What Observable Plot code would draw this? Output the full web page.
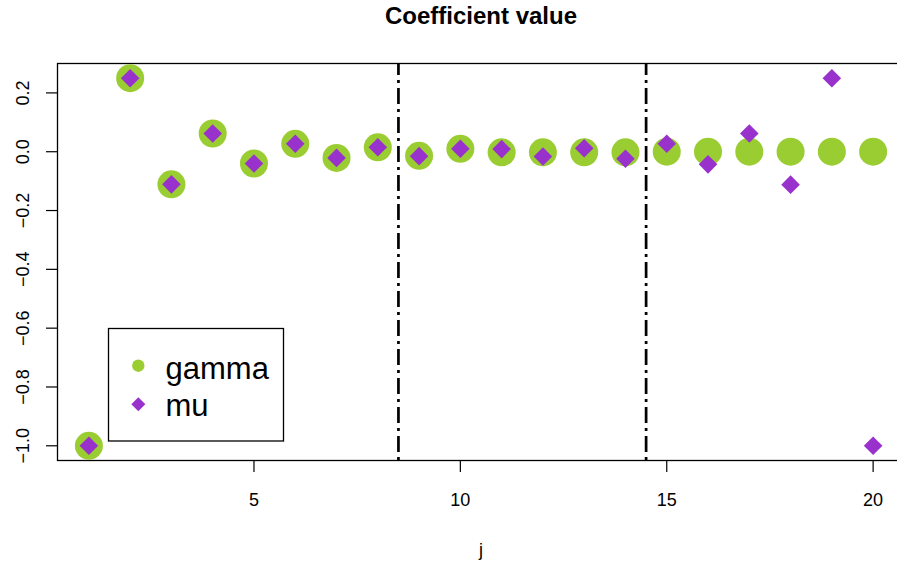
<!DOCTYPE html>
<html>
<head>
<meta charset="utf-8">
<script src="https://cdn.jsdelivr.net/npm/d3@7"></script>
<script src="https://cdn.jsdelivr.net/npm/@observablehq/plot@0.6"></script>
<style>
  html, body { margin: 0; padding: 0; background: white; overflow: hidden; }
  #chart svg { max-width: none !important; display: block; }
</style>
</head>
<body>
<div id="chart"></div>
<script>
// ---- data ----
const jIndex = [1, 2, 3, 4, 5, 6, 7, 8, 9, 10, 11, 12, 13, 14, 15, 16, 17, 18, 19, 20];
const gammaValues = [-1.0, 0.25, -0.111, 0.062, -0.04, 0.027, -0.021, 0.015, -0.014, 0.01,
                     -0.002, -0.002, -0.002, -0.002, 0, 0, 0, 0, 0, 0];
const muValues = [-1.0, 0.25, -0.111, 0.062, -0.04, 0.027, -0.021, 0.015, -0.015, 0.01,
                  0.009, -0.016, 0.012, -0.024, 0.027, -0.043, 0.062, -0.112, 0.25, -1.0];
const cutPoints = [8.5, 14.5];
const xTicks = [5, 10, 15, 20];
const yTicks = [-1.0, -0.8, -0.6, -0.4, -0.2, 0.0, 0.2];
const yTickLabels = ["\u22121.0", "\u22120.8", "\u22120.6", "\u22120.4", "\u22120.2", "0.0", "0.2"];
const seriesNames = ["gamma", "mu"];
const titleText = "Coefficient value";
const xLabel = "j";

const GREEN = "#9ACD32";
const PURPLE = "#9932CC";
const FONT = "'Liberation Sans', Arial, Helvetica, sans-serif";

const gammaData = jIndex.map((j, i) => ({j, v: gammaValues[i]}));
const muData = jIndex.map((j, i) => ({j, v: muValues[i]}));
const yTickData = yTicks.map((v, i) => ({v, label: yTickLabels[i]}));

// diamond symbol: half-diagonal = r
const diamond = {
  draw(ctx, size) {
    const r = Math.sqrt(size / Math.PI);
    ctx.moveTo(0, -r); ctx.lineTo(r, 0); ctx.lineTo(0, r); ctx.lineTo(-r, 0); ctx.closePath();
  }
};

const W = 904, H = 565;
const plot = Plot.plot({
  width: W,
  height: H,
  marginLeft: 57,
  marginRight: 0,
  marginTop: 63,
  marginBottom: 105,
  style: {fontFamily: FONT, background: "white", color: "black"},
  x: {domain: [0.24, 20.76], axis: null},
  y: {domain: [-1.05, 0.30], axis: null},
  marks: [
    Plot.frame({stroke: "black", strokeWidth: 1.3}),
    Plot.axisX({ticks: xTicks, tickSize: 12, tickPadding: 21, fontSize: 18, label: null, strokeWidth: 1.2}),
    Plot.axisY({ticks: yTicks, tickSize: 11, tickFormat: () => "", label: null, strokeWidth: 1.2}),
    Plot.text(yTickData, {y: "v", text: "label", frameAnchor: "left", dx: -34, rotate: -90,
      textAnchor: "middle", lineAnchor: "middle", fontSize: 18, fill: "black"}),
    Plot.ruleX(cutPoints, {x: d => d, stroke: "black", strokeWidth: 2.7,
      strokeDasharray: "16,5,3,5", strokeDashoffset: 4}),
    Plot.dot(gammaData, {x: "j", y: "v", r: 14, fill: GREEN, stroke: "none"}),
    Plot.dot(muData, {x: "j", y: "v", r: 9.3, symbol: diamond, fill: PURPLE, stroke: "none"}),
    Plot.text([titleText], {text: d => d, frameAnchor: "top", dy: -40, lineAnchor: "bottom",
      fontSize: 24, fontWeight: "bold", fill: "black"}),
    Plot.text([xLabel], {text: d => d, frameAnchor: "bottom", dy: 95, lineAnchor: "bottom",
      fontSize: 18, fill: "black"})
  ]
});
plot.style.maxWidth = "none";
document.getElementById("chart").appendChild(plot);

// ---- legend (layout in pixels) ----
const svg = d3.select(plot);
const lg = svg.append("g").attr("font-family", FONT).attr("text-anchor", "start");
lg.append("rect").attr("x", 108.5).attr("y", 328.5).attr("width", 175).attr("height", 112.5)
  .attr("fill", "white").attr("stroke", "black").attr("stroke-width", 1.3);
lg.append("circle").attr("cx", 138.3).attr("cy", 365.7).attr("r", 6.2).attr("fill", GREEN);
lg.append("path").attr("d", "M138.3,397.3L145.3,404.3L138.3,411.3L131.3,404.3Z").attr("fill", PURPLE);
lg.append("text").attr("x", 165.5).attr("y", 379).attr("font-size", 31).attr("fill", "black")
  .attr("text-anchor", "start").text(seriesNames[0]);
lg.append("text").attr("x", 165.5).attr("y", 416).attr("font-size", 31).attr("fill", "black")
  .attr("text-anchor", "start").text(seriesNames[1]);
</script>
</body>
</html>
